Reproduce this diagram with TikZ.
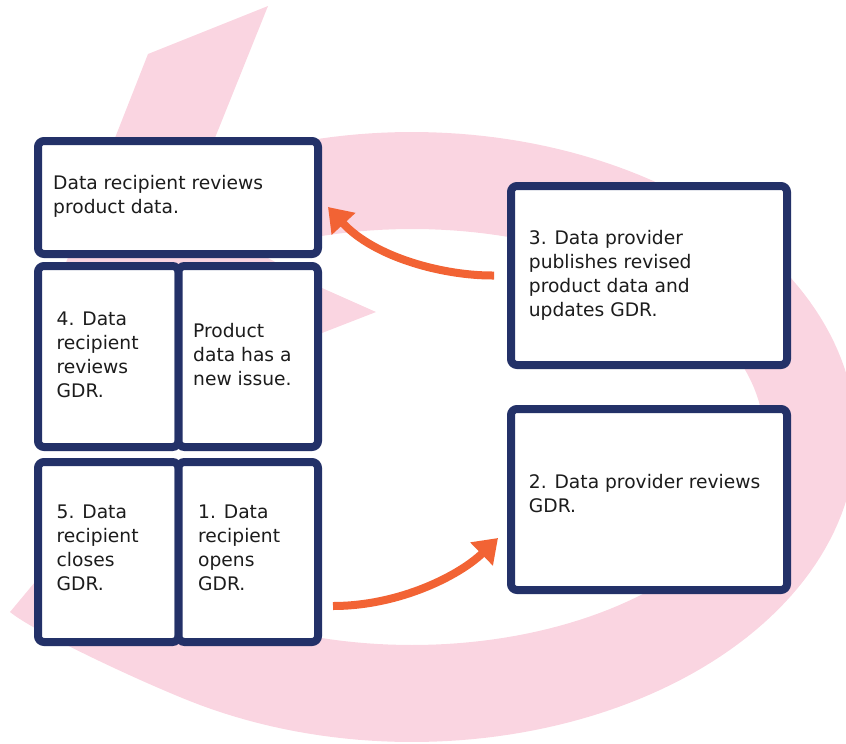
\documentclass[tikz,border=0pt]{standalone}
\usepackage{fontspec}
\setmainfont{DejaVu Sans}
\usetikzlibrary{calc,arrows.meta}

\definecolor{navy}{RGB}{35,49,104}
\definecolor{flowc}{RGB}{242,99,52}
\definecolor{blush}{RGB}{250,213,225}
\definecolor{ink}{RGB}{28,28,28}

\tikzset{
  stepbox/.style={draw=navy, fill=white, line width=8pt, rounded corners=6pt,
    inner sep=0pt, outer sep=4pt},
  % positioned by the baseline of the last line
  boxtext/.style={anchor=base west, inner sep=0pt, align=left, text=ink,
    font=\fontsize{18.67}{24.1}\selectfont},
  flow/.style={draw=flowc, line width=8pt,
    -{Triangle[length=23pt,width=31pt]}},
}

\begin{document}
\begin{tikzpicture}[x=1pt,y=-1pt]
\clip (0,0) rectangle (846,744);

% large cycle band behind the steps
\fill[blush]
  plot[domain=-125:120, samples=150] ({412+444*cos(\x)},{437+305*sin(\x)})
  .. controls (132,678) and (33,631) .. (10,612)
  -- (90,516)
  -- plot[domain=156:-125, samples=150] ({412+352*cos(\x)},{437+208*sin(\x)})
  -- cycle;
% upper band end and its head
\fill[blush] (148,54) -- (268,6) -- (190,200) -- (268,258) -- (322,288)
  -- (376,312) -- (322,333) -- (45,441) -- (45,316) -- cycle;

% step boxes
\node[stepbox, minimum width=280pt, minimum height=113pt] (b1) at (178,197.5) {};
\node[stepbox, minimum width=140.5pt, minimum height=181pt] (b4) at (108.25,356.5) {};
\node[stepbox, minimum width=139.5pt, minimum height=181pt] (bp) at (248.25,356.5) {};
\node[stepbox, minimum width=140.5pt, minimum height=180pt] (b5) at (108.25,552) {};
\node[stepbox, minimum width=139.5pt, minimum height=180pt] (bo) at (248.25,552) {};
\node[stepbox, minimum width=276pt, minimum height=179pt] (b3) at (649,275.5) {};
\node[stepbox, minimum width=276pt, minimum height=181pt] (b2) at (649,499.5) {};

% box texts
\node[boxtext] (t1) at (53,213.1) {Data recipient reviews\\product data.};
\node[boxtext] (t4) at (56.5,397.3) {4. Data\\recipient\\reviews\\GDR.};
\node[boxtext] (tp) at (193,385.2) {Product\\data has a\\new issue.};
\node[boxtext] (t5) at (56.5,590.3) {5. Data\\recipient\\closes\\GDR.};
\node[boxtext] (tq) at (198,590.3) {1. Data\\recipient\\opens\\GDR.};
\node[boxtext] (t3) at (528.7,316.3) {3. Data provider\\publishes revised\\product data and\\updates GDR.};
\node[boxtext] (t2) at (528.7,512.1) {2. Data provider reviews\\GDR.};

% connectors
\draw[flow] ($(b3.west)+(-13,0)$)
  .. controls ($(b3.west)+(-62,0.5)$) and ($(b1.east)+(53,60.5)$)
  .. ($(b1.east)+(6,9.5)$);
\draw[flow] ($(bo.east)+(11,54)$)
  .. controls ($(bo.east)+(78,54)$) and ($(b2.west)+(-47,75.5)$)
  .. ($(b2.west)+(-9,38.5)$);
\end{tikzpicture}
\end{document}
